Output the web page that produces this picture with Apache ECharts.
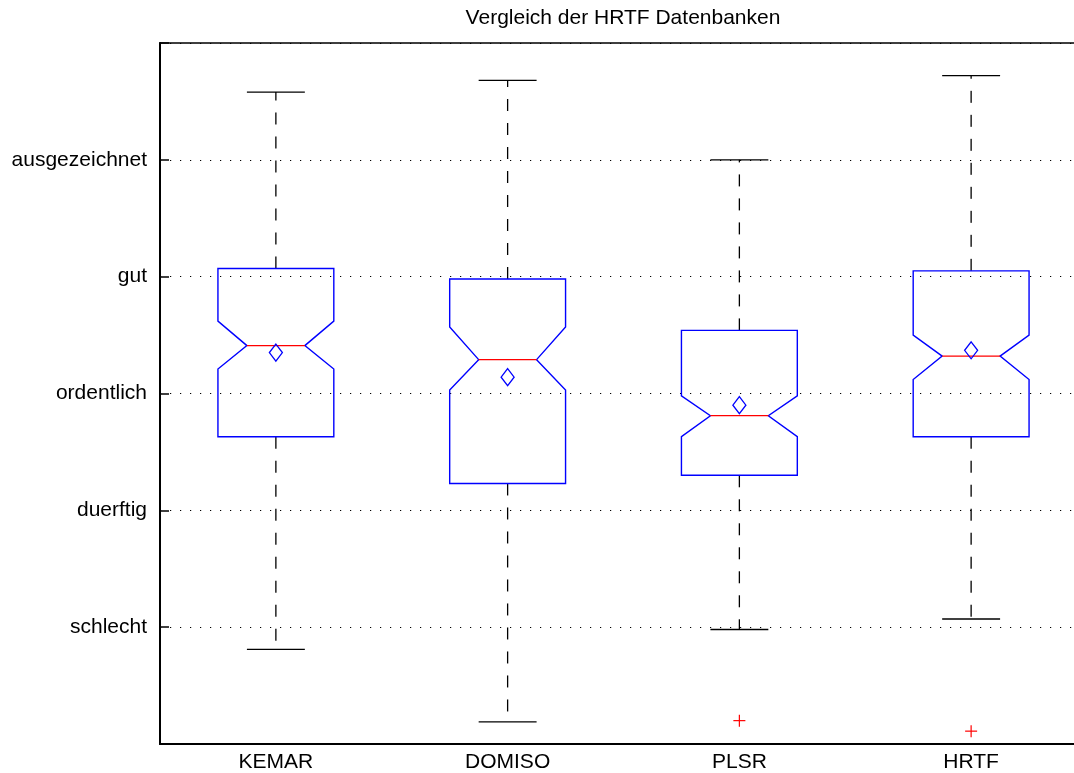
<!DOCTYPE html>
<html><head><meta charset="utf-8">
<script src="https://cdn.jsdelivr.net/npm/echarts@6/dist/echarts.min.js"></script>
<style>html,body{margin:0;padding:0;background:#fff;overflow:hidden;width:1074px;height:773px}#c{width:1087px;height:773px}</style>
</head><body><div id="c"></div>
<script>
const categories = ['KEMAR', 'DOMISO', 'PLSR', 'HRTF'];
const yTickValues = [1, 2, 3, 4, 5];
const yTickLabels = ['schlecht', 'duerftig', 'ordentlich', 'gut', 'ausgezeichnet'];
const whiskerLow  = [0.81, 0.19, 0.98, 1.07];
const boxLow      = [2.63, 2.23, 2.30, 2.63];
const notchLow    = [3.21, 3.03, 2.63, 3.12];
const median      = [3.41, 3.29, 2.81, 3.32];
const notchHigh   = [3.62, 3.57, 2.98, 3.50];
const boxHigh     = [4.07, 3.98, 3.54, 4.05];
const whiskerHigh = [5.58, 5.68, 5.00, 5.72];
const mean        = [3.35, 3.14, 2.90, 3.37];
const outlierCategory = [2, 3];
const outlierValue    = [0.20, 0.11];

const boxData = categories.map((c, i) => [i, whiskerLow[i], boxLow[i], notchLow[i], median[i], notchHigh[i], boxHigh[i], whiskerHigh[i], mean[i]]);
const outlierData = outlierCategory.map((c, i) => [c, outlierValue[i]]);

const FONT = '"Liberation Sans", Arial, Helvetica, sans-serif';

function renderBox(params, api) {
  const i = api.value(0);
  const cw = api.size([1, 0])[0];
  const bw = cw * 0.25, nw = cw * 0.125, capw = cw * 0.125;
  const x = api.coord([i, api.value(4)])[0];
  const yy = k => api.coord([i, api.value(k)])[1];
  const wl = yy(1), bl = yy(2), nl = yy(3), md = yy(4), nh = yy(5), bh = yy(6), wh = yy(7), mn = yy(8);
  const dash = { stroke: '#000', lineWidth: 1.3, lineDash: [12, 12], fill: null };
  const solid = { stroke: '#000', lineWidth: 1.3, fill: null };
  return {
    type: 'group',
    children: [
      { type: 'line', shape: { x1: x, y1: bh, x2: x, y2: wh }, style: dash },
      { type: 'line', shape: { x1: x, y1: bl, x2: x, y2: wl }, style: dash },
      { type: 'line', shape: { x1: x - capw, y1: wh, x2: x + capw, y2: wh }, style: solid },
      { type: 'line', shape: { x1: x - capw, y1: wl, x2: x + capw, y2: wl }, style: solid },
      { type: 'polygon', shape: { points: [
          [x - bw, bh], [x + bw, bh], [x + bw, nh], [x + nw, md], [x + bw, nl],
          [x + bw, bl], [x - bw, bl], [x - bw, nl], [x - nw, md], [x - bw, nh]] },
        style: { stroke: '#0000ff', lineWidth: 1.4, fill: null } },
      { type: 'line', shape: { x1: x - nw, y1: md, x2: x + nw, y2: md }, style: { stroke: '#ff0000', lineWidth: 1.3 } },
      { type: 'polygon', shape: { points: [[x, mn - 8.5], [x + 6.5, mn], [x, mn + 8.5], [x - 6.5, mn]] },
        style: { stroke: '#0000ff', lineWidth: 1.3, fill: null } }
    ]
  };
}

function renderOutlier(params, api) {
  const p = api.coord([api.value(0), api.value(1)]);
  const s = 6;
  const st = { stroke: '#ff0000', lineWidth: 1.2 };
  return { type: 'group', children: [
    { type: 'line', shape: { x1: p[0] - s, y1: p[1], x2: p[0] + s, y2: p[1] }, style: st },
    { type: 'line', shape: { x1: p[0], y1: p[1] - s, x2: p[0], y2: p[1] + s }, style: st }
  ]};
}

const chart = echarts.init(document.getElementById('c'), null, { renderer: 'canvas' });
chart.setOption({
  backgroundColor: '#fff',
  animation: false,
  title: {
    text: 'Vergleich der HRTF Datenbanken',
    left: 623, top: 8, padding: 0, textAlign: 'center',
    textStyle: { fontFamily: FONT, fontSize: 21, fontWeight: 'normal', color: '#000' }
  },
  grid: { left: 160, right: 0, top: 43, bottom: 29, show: true, borderColor: '#000', borderWidth: 1.5, backgroundColor: 'transparent' },
  xAxis: {
    type: 'category', data: categories, boundaryGap: true,
    axisLine: { lineStyle: { color: '#000', width: 2 } },
    axisTick: { show: false },
    axisLabel: { color: '#000', fontFamily: FONT, fontSize: 21, margin: 8 },
    splitLine: { show: false }
  },
  yAxis: {
    type: 'value', min: 0, max: 6, interval: 1,
    axisLine: { show: true, lineStyle: { color: '#000', width: 2 } },
    axisTick: { show: true, inside: true, length: 9, lineStyle: { color: '#000', width: 1.5 } },
    axisLabel: {
      color: '#000', fontFamily: FONT, fontSize: 21, margin: 13, padding: [6, 0, 0, 0],
      formatter: v => { const k = yTickValues.indexOf(v); return k >= 0 ? yTickLabels[k] : ''; }
    },
    splitLine: { show: true, lineStyle: { color: '#000', width: 1.2, type: [1.2, 8.8] } }
  },
  series: [
    { type: 'custom', renderItem: renderBox, data: boxData, encode: { x: 0, y: [1, 2, 3, 4, 5, 6, 7, 8] }, z: 3 },
    { type: 'custom', renderItem: renderOutlier, data: outlierData, encode: { x: 0, y: 1 }, z: 3 }
  ]
});
</script>
</body></html>
